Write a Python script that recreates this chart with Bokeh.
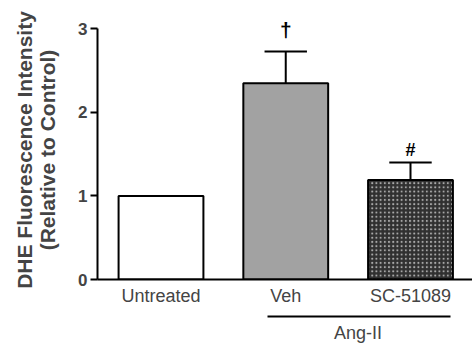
from bokeh.plotting import figure
from bokeh.models import LinearAxis, FixedTicker, Range1d
from bokeh.core.properties import value
from bokeh.embed import file_html
from bokeh.resources import INLINE

categories = ["Untreated", "Veh", "SC-51089"]
means = [1.0, 2.35, 1.19]
errors = [0.0, 0.38, 0.21]
markers = ["", "\u2020", "#"]
group_label = "Ang-II"
y_ticks = [0, 1, 2, 3]

xs = [1, 2, 3]
x0 = 0.491
p = figure(width=472, height=345, output_backend="svg", toolbar_location=None,
           x_range=Range1d(x0, x0 + 375 / 124.75), y_range=Range1d(0, 3.1),
           x_axis_location=None, y_axis_location=None)
p.min_border_left = 97
p.min_border_right = 0
p.min_border_top = 20
p.min_border_bottom = 65
p.outline_line_color = None
p.grid.visible = False
p.background_fill_color = "white"

# bars
w = 0.68
p.vbar(x=[xs[0]], top=[means[0]], width=w, fill_color="white", line_color="black", line_width=2)
p.vbar(x=[xs[1]], top=[means[1]], width=w, fill_color="#a2a2a2", line_color="black", line_width=2)
p.vbar(x=[xs[2]], top=[means[2]], width=w, fill_color="#303030", line_color="black", line_width=2,
       hatch_pattern="dot", hatch_color="#a8a8a8", hatch_scale=4.2, hatch_weight=2.6)

# error bars (upper only)
ex = [xs[i] for i in (1, 2)]
eb = [means[i] for i in (1, 2)]
et = [means[i] + errors[i] for i in (1, 2)]
p.segment(x0=ex, y0=eb, x1=ex, y1=et, line_color="black", line_width=2)
cw = 0.17
p.segment(x0=[x - cw for x in ex], y0=et, x1=[x + cw for x in ex], y1=et, line_color="black", line_width=2)

# significance markers
p.text(x=[xs[1]], y=[et[0] + 0.12], text=[markers[1]], text_align="center", text_baseline="bottom",
       text_font=value("Liberation Sans"), text_font_size="21px", text_font_style="bold")
p.text(x=[xs[2]], y=[et[1] + 0.03], text=[markers[2]], text_align="center", text_baseline="bottom",
       text_font=value("Liberation Sans"), text_font_size="18px", text_font_style="bold")

# y axis
yax = LinearAxis(ticker=FixedTicker(ticks=y_ticks), minor_tick_line_color=None,
                 axis_line_width=2, major_tick_line_width=2, major_tick_out=7, major_tick_in=0,
                 major_label_text_font="Liberation Sans", major_label_text_font_style="bold",
                 major_label_text_font_size="17px", major_label_standoff=3,
                 axis_label="DHE Fluorescence Intensity\n(Relative to Control)",
                 axis_label_text_font="Liberation Sans", axis_label_text_font_style="bold",
                 axis_label_text_font_size="21px", axis_label_text_line_height=1.0,
                 axis_label_standoff=16)
yax.bounds = (0, 3)
p.add_layout(yax, "left")

# x axis
xax = LinearAxis(ticker=FixedTicker(ticks=xs), minor_tick_line_color=None,
                 axis_line_width=2, major_tick_line_color=None, major_tick_out=0, major_tick_in=0,
                 major_label_overrides={x: c for x, c in zip(xs, categories)},
                 major_label_text_font="Liberation Sans", major_label_text_font_size="18px",
                 major_label_standoff=6,
                 axis_label=" ", axis_label_text_font_size="4px", axis_label_standoff=0)
p.add_layout(xax, "below")

# group axis
gpos = 2.58
gax = LinearAxis(ticker=FixedTicker(ticks=[gpos]), minor_tick_line_color=None,
                 axis_line_width=2, major_tick_line_color=None, major_tick_out=0, major_tick_in=0,
                 major_label_overrides={gpos: group_label},
                 major_label_text_font="Liberation Sans", major_label_text_font_size="18px",
                 major_label_standoff=6)
gax.bounds = (1.854, 3.321)
p.add_layout(gax, "below")

open("out.html", "w").write(file_html(p, INLINE))
